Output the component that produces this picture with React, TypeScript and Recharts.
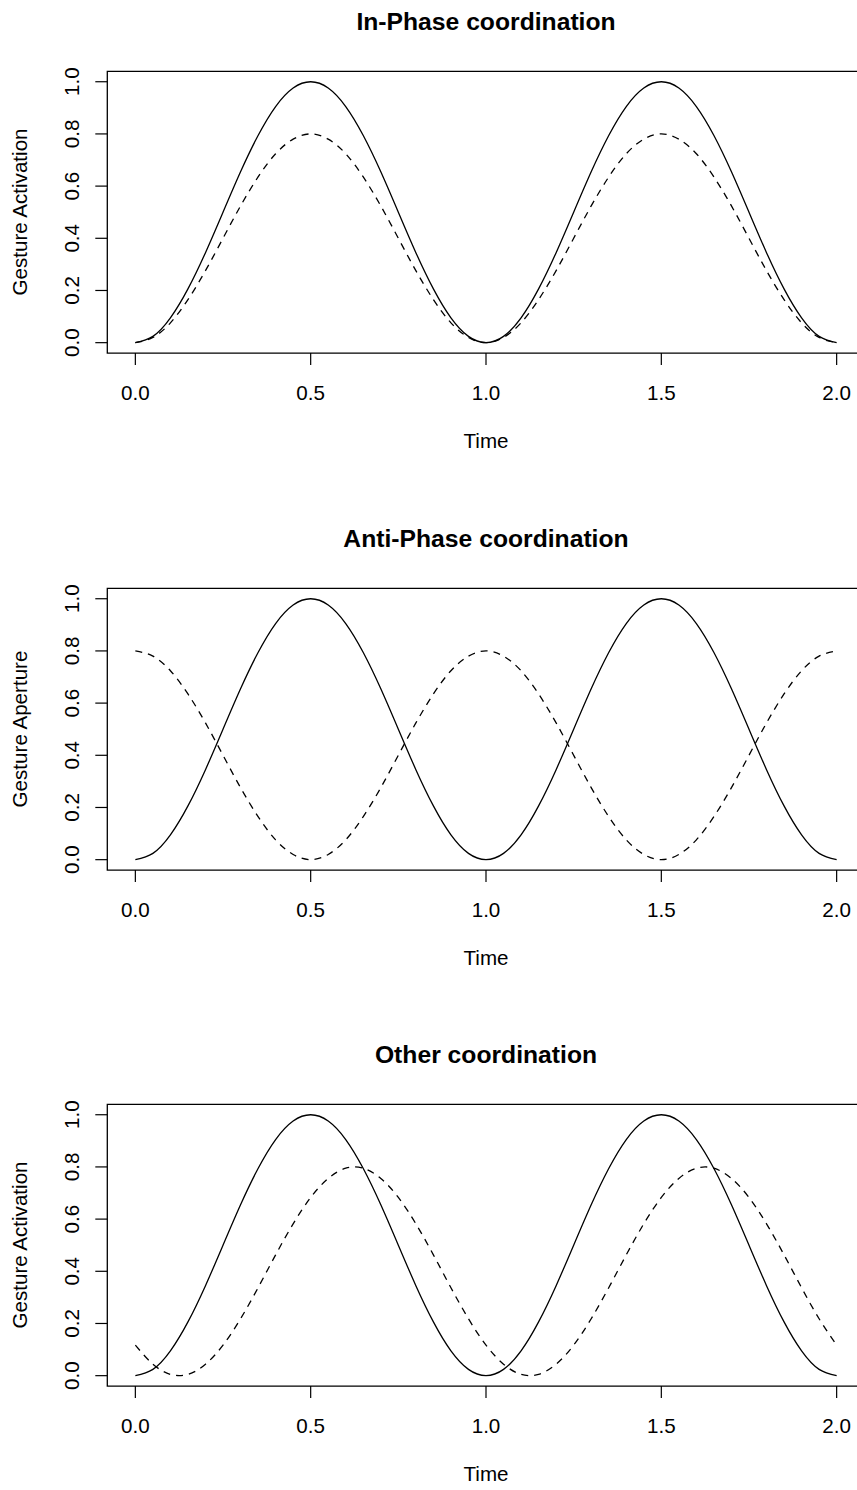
import React from 'react';
import { LineChart, Line, XAxis, YAxis, ReferenceArea } from 'recharts';

// time samples (0 to 2)
const time = [
  0, 0.05, 0.1, 0.15, 0.2, 0.25, 0.3, 0.35, 0.4, 0.45,
  0.5, 0.55, 0.6, 0.65, 0.7, 0.75, 0.8, 0.85, 0.9, 0.95,
  1, 1.05, 1.1, 1.15, 1.2, 1.25, 1.3, 1.35, 1.4, 1.45,
  1.5, 1.55, 1.6, 1.65, 1.7, 1.75, 1.8, 1.85, 1.9, 1.95, 2,
];

// solid gesture (same in every panel)
const solidGesture = [
  0, 0.024, 0.095, 0.206, 0.345, 0.5, 0.655, 0.794, 0.905, 0.976,
  1, 0.976, 0.905, 0.794, 0.655, 0.5, 0.345, 0.206, 0.095, 0.024,
  0, 0.024, 0.095, 0.206, 0.345, 0.5, 0.655, 0.794, 0.905, 0.976,
  1, 0.976, 0.905, 0.794, 0.655, 0.5, 0.345, 0.206, 0.095, 0.024, 0,
];

// dashed gesture, in-phase
const inPhaseDashed = [
  0, 0.02, 0.076, 0.165, 0.276, 0.4, 0.524, 0.635, 0.724, 0.78,
  0.8, 0.78, 0.724, 0.635, 0.524, 0.4, 0.276, 0.165, 0.076, 0.02,
  0, 0.02, 0.076, 0.165, 0.276, 0.4, 0.524, 0.635, 0.724, 0.78,
  0.8, 0.78, 0.724, 0.635, 0.524, 0.4, 0.276, 0.165, 0.076, 0.02, 0,
];

// dashed gesture, anti-phase
const antiPhaseDashed = [
  0.8, 0.78, 0.724, 0.635, 0.524, 0.4, 0.276, 0.165, 0.076, 0.02,
  0, 0.02, 0.076, 0.165, 0.276, 0.4, 0.524, 0.635, 0.724, 0.78,
  0.8, 0.78, 0.724, 0.635, 0.524, 0.4, 0.276, 0.165, 0.076, 0.02,
  0, 0.02, 0.076, 0.165, 0.276, 0.4, 0.524, 0.635, 0.724, 0.78, 0.8,
];

// dashed gesture, other (lagged)
const otherDashed = [
  0.117, 0.044, 0.005, 0.005, 0.044, 0.117, 0.218, 0.337, 0.463, 0.582,
  0.683, 0.756, 0.795, 0.795, 0.756, 0.683, 0.582, 0.463, 0.337, 0.218,
  0.117, 0.044, 0.005, 0.005, 0.044, 0.117, 0.218, 0.337, 0.463, 0.582,
  0.683, 0.756, 0.795, 0.795, 0.756, 0.683, 0.582, 0.463, 0.337, 0.218, 0.117,
];

const xTicks = [0, 0.5, 1, 1.5, 2];
const yTicks = [0, 0.2, 0.4, 0.6, 0.8, 1];

const titles = ['In-Phase coordination', 'Anti-Phase coordination', 'Other coordination'];
const yLabels = ['Gesture Activation', 'Gesture Aperture', 'Gesture Activation'];
const dashedSeries = [inPhaseDashed, antiPhaseDashed, otherDashed];

const FONT = '"Liberation Sans", Arial, Helvetica, sans-serif';
const PANEL_H = 516.67;
const CHART_W = 880;
const CHART_H = 517;

const XTick = (props: any) => {
  const { x, y, payload } = props;
  return (
    <text x={x} y={y + 34.9} textAnchor="middle" fontSize={20.6} fontFamily={FONT} fill="#000">
      {Number(payload.value).toFixed(1)}
    </text>
  );
};

const YTick = (props: any) => {
  const { x, y, payload } = props;
  return (
    <text
      transform={`translate(${x - 16},${y}) rotate(-90)`}
      textAnchor="middle"
      fontSize={20.6}
      fontFamily={FONT}
      fill="#000"
    >
      {Number(payload.value).toFixed(1)}
    </text>
  );
};

const Panel = ({ index }: { index: number }) => {
  const dashed = dashedSeries[index];
  const data = time.map((t, i) => ({ t, solid: solidGesture[i], dashed: dashed[i] }));

  return (
    <div style={{ position: 'absolute', left: 0, top: index * PANEL_H, width: CHART_W, height: CHART_H }}>
      <LineChart
        width={CHART_W}
        height={CHART_H}
        data={data}
        margin={{ top: 71.3, right: 15.3, bottom: 0, left: 0 }}
      >
        <XAxis
          dataKey="t"
          type="number"
          domain={[-0.08, 2.08]}
          ticks={xTicks}
          allowDataOverflow
          axisLine={false}
          tickLine={{ stroke: '#000', strokeWidth: 1.2 }}
          tickSize={12}
          tickMargin={0}
          height={163.9}
          tick={<XTick />}
          interval={0}
        />
        <YAxis
          type="number"
          domain={[-0.04, 1.04]}
          ticks={yTicks}
          allowDataOverflow
          axisLine={false}
          tickLine={{ stroke: '#000', strokeWidth: 1.2 }}
          tickSize={12}
          tickMargin={0}
          width={107.3}
          tick={<YTick />}
          interval={0}
        />
        <ReferenceArea
          x1={-0.08}
          x2={2.08}
          y1={-0.04}
          y2={1.04}
          fill="none"
          fillOpacity={0}
          stroke="#000"
          strokeWidth={1.3}
          ifOverflow="visible"
        />
        <Line
          type="natural"
          dataKey="solid"
          stroke="#000"
          strokeWidth={1.3}
          dot={false}
          isAnimationActive={false}
        />
        <Line
          type="natural"
          dataKey="dashed"
          stroke="#000"
          strokeWidth={1.3}
          strokeDasharray="7 6"
          dot={false}
          isAnimationActive={false}
        />
      </LineChart>
      <svg
        width={CHART_W}
        height={CHART_H}
        style={{ position: 'absolute', left: 0, top: 0, pointerEvents: 'none' }}
      >
        <text x={486} y={30} textAnchor="middle" fontSize={24.7} fontWeight="bold" fontFamily={FONT} fill="#000">
          {titles[index]}
        </text>
        <text x={486} y={448.3} textAnchor="middle" fontSize={20.6} fontFamily={FONT} fill="#000">
          Time
        </text>
        <text
          transform="translate(27,212) rotate(-90)"
          textAnchor="middle"
          fontSize={20.6}
          fontFamily={FONT}
          fill="#000"
        >
          {yLabels[index]}
        </text>
      </svg>
    </div>
  );
};

export default function App() {
  return (
    <div
      style={{
        position: 'absolute',
        left: 0,
        top: 0,
        width: 857,
        height: 1490,
        overflow: 'hidden',
        background: '#fff',
        fontFamily: FONT,
      }}
    >
      {titles.map((_, i) => (
        <Panel key={i} index={i} />
      ))}
    </div>
  );
}
